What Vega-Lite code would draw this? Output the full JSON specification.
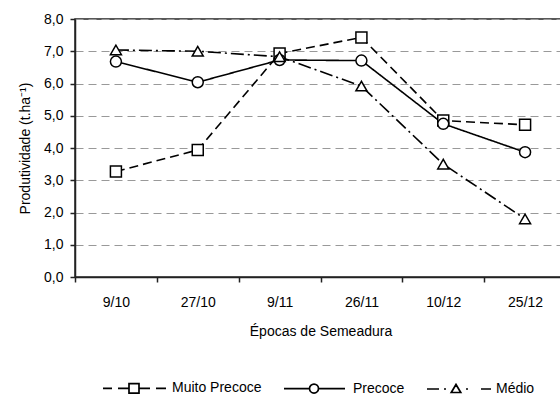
{
  "$schema": "https://vega.github.io/schema/vega-lite/v6.json",
  "width": 491,
  "height": 258,
  "autosize": {"type": "none"},
  "padding": {"left": 75, "top": 19, "right": 0, "bottom": 118},
  "background": "white",
  "config": {
    "font": "Liberation Sans",
    "view": {"stroke": "#222", "strokeWidth": 1.5}
  },
  "data": {
    "values": [
      {"epoca": "9/10", "serie": "Muito Precoce", "v": 3.27},
      {"epoca": "27/10", "serie": "Muito Precoce", "v": 3.94},
      {"epoca": "9/11", "serie": "Muito Precoce", "v": 6.93},
      {"epoca": "26/11", "serie": "Muito Precoce", "v": 7.43},
      {"epoca": "10/12", "serie": "Muito Precoce", "v": 4.85},
      {"epoca": "25/12", "serie": "Muito Precoce", "v": 4.72},
      {"epoca": "9/10", "serie": "Precoce", "v": 6.68},
      {"epoca": "27/10", "serie": "Precoce", "v": 6.04},
      {"epoca": "9/11", "serie": "Precoce", "v": 6.73},
      {"epoca": "26/11", "serie": "Precoce", "v": 6.71},
      {"epoca": "10/12", "serie": "Precoce", "v": 4.75},
      {"epoca": "25/12", "serie": "Precoce", "v": 3.87},
      {"epoca": "9/10", "serie": "Médio", "v": 7.04},
      {"epoca": "27/10", "serie": "Médio", "v": 7.0},
      {"epoca": "9/11", "serie": "Médio", "v": 6.83},
      {"epoca": "26/11", "serie": "Médio", "v": 5.92},
      {"epoca": "10/12", "serie": "Médio", "v": 3.5},
      {"epoca": "25/12", "serie": "Médio", "v": 1.8}
    ]
  },
  "encoding": {
    "x": {
      "field": "epoca",
      "type": "ordinal",
      "sort": ["9/10", "27/10", "9/11", "26/11", "10/12", "25/12"],
      "bandPosition": 0.5,
      "scale": {"type": "band", "paddingInner": 0, "paddingOuter": 0},
      "axis": {
        "title": "Épocas de Semeadura",
        "labelAngle": 0,
        "tickBand": "extent",
        "grid": false,
        "domainColor": "#222",
        "domainWidth": 1.5,
        "tickColor": "#222",
        "tickWidth": 1.5,
        "tickSize": 5,
        "labelFontSize": 14,
        "labelColor": "black",
        "labelPadding": 13,
        "titleFontSize": 14,
        "titleFontWeight": "normal",
        "titleColor": "black",
        "titlePadding": 15
      }
    },
    "y": {
      "field": "v",
      "type": "quantitative",
      "scale": {"domain": [0, 8], "nice": false},
      "axis": {
        "title": "Produtividade (t.ha⁻¹)",
        "values": [0, 1, 2, 3, 4, 5, 6, 7, 8],
        "labelExpr": "replace(format(datum.value, '.1f'), '.', ',')",
        "grid": true,
        "gridDash": [8, 5],
        "gridColor": "#999",
        "gridWidth": 1,
        "domainColor": "#222",
        "domainWidth": 1.5,
        "tickColor": "#222",
        "tickWidth": 1.5,
        "tickSize": 5,
        "labelFontSize": 14,
        "labelColor": "black",
        "labelPadding": 7,
        "titleFontSize": 14,
        "titleFontWeight": "normal",
        "titleColor": "black",
        "titlePadding": 11
      }
    }
  },
  "layer": [
    {
      "mark": {"type": "line", "color": "black", "strokeWidth": 1.6},
      "encoding": {
        "strokeDash": {
          "field": "serie",
          "type": "nominal",
          "scale": {"domain": ["Muito Precoce", "Precoce", "Médio"], "range": [[9, 5], [1, 0], [13, 4, 2, 4]]},
          "legend": null
        }
      }
    },
    {
      "mark": {"type": "point", "filled": true, "fill": "white", "stroke": "black", "strokeWidth": 1.5, "size": 121, "opacity": 1},
      "encoding": {
        "shape": {
          "field": "serie",
          "type": "nominal",
          "scale": {"domain": ["Muito Precoce", "Precoce", "Médio"], "range": ["square", "circle", "triangle-up"]},
          "legend": null
        }
      }
    },
    {
      "transform": [{"filter": "datum.v < 0"}],
      "mark": {"type": "point", "filled": false, "color": "black", "strokeWidth": 1.7, "size": 100, "opacity": 1},
      "encoding": {
        "shape": {
          "field": "serie",
          "type": "nominal",
          "scale": {
            "domain": ["Muito Precoce", "Precoce", "Médio"],
            "range": [
              "M0,0H1.8M3,0H5.2M5.2,-0.95H7.2V0.95H5.2ZM7.2,0H9.4M10.6,0H12.6",
              "M0,0H5.1M6.9,0A0.9,0.9 0 1,1 5.1,0A0.9,0.9 0 1,1 6.9,0M6.9,0H12.2",
              "M0,0H2.4M3.4,0H3.8M5.8,-0.9L6.75,0.7H4.85ZM7.8,0H8.2M10.8,0H12.8"
            ]
          },
          "legend": {
            "orient": "none",
            "legendX": 21,
            "legendY": 362,
            "direction": "horizontal",
            "title": null,
            "padding": 0,
            "columnPadding": 15,
            "labelOffset": 62,
            "labelFontSize": 14,
            "labelColor": "black",
            "symbolSize": 100,
            "symbolStrokeColor": "black",
            "symbolStrokeWidth": 1.7,
            "symbolOpacity": 1
          }
        }
      }
    }
  ],
  "resolve": {"scale": {"shape": "independent", "strokeDash": "independent"}}
}
